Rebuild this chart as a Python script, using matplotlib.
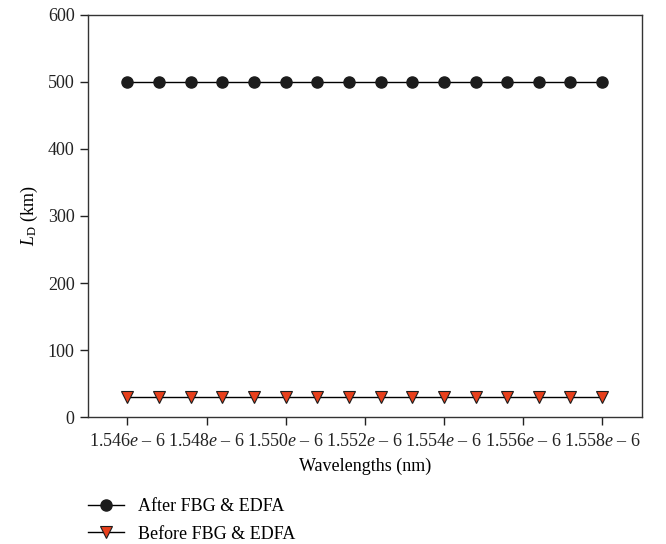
import matplotlib
matplotlib.use("Agg")
import matplotlib.pyplot as plt
from matplotlib.ticker import FuncFormatter, MultipleLocator

plt.rcParams["font.family"] = ["Liberation Serif", "DejaVu Serif"]
plt.rcParams["mathtext.fontset"] = "custom"
plt.rcParams["mathtext.rm"] = "Liberation Serif"
plt.rcParams["mathtext.it"] = "Liberation Serif:italic"

# wavelengths (m), 16 samples
wavelengths = [1.5460e-6, 1.5468e-6, 1.5476e-6, 1.5484e-6, 1.5492e-6, 1.5500e-6,
               1.5508e-6, 1.5516e-6, 1.5524e-6, 1.5532e-6, 1.5540e-6, 1.5548e-6,
               1.5556e-6, 1.5564e-6, 1.5572e-6, 1.5580e-6]
ld_after = [500] * 16
ld_before = [30] * 16
series_labels = ["After FBG & EDFA", "Before FBG & EDFA"]
x_ticks = [1.546e-6, 1.548e-6, 1.550e-6, 1.552e-6, 1.554e-6, 1.556e-6, 1.558e-6]

FS = 13


def fmt_x(v, pos):
    return f"{v * 1e6:.3f}$e$ \u2013 6"


fig = plt.figure(figsize=(6.66, 5.44), dpi=100)
ax = fig.add_axes([0.132, 0.233, 0.8315, 0.740])

ax.plot(wavelengths, ld_after, color="black", lw=1, marker="o", ms=8,
        mfc="#1c1c1c", mec="#1c1c1c", label=series_labels[0])
ax.plot(wavelengths, ld_before, color="black", lw=1, marker="v", ms=8.5,
        mfc="#e8401c", mec="#1c1c1c", mew=0.8, label=series_labels[1])

ax.set_xlim(1.545e-6, 1.559e-6)
ax.set_ylim(0, 600)
ax.set_xticks(x_ticks)
ax.xaxis.set_major_formatter(FuncFormatter(fmt_x))
ax.yaxis.set_major_locator(MultipleLocator(100))
ax.tick_params(direction="out", length=6, width=1, labelsize=FS, colors="#222222")
ax.tick_params(axis="x", pad=5)
for sp in ax.spines.values():
    sp.set_linewidth(1)
    sp.set_color("#333333")

ax.set_xlabel("Wavelengths (nm)", fontsize=FS, labelpad=6)
ax.set_ylabel(r"$L_{\mathrm{D}}$ (km)", fontsize=FS, labelpad=6)

ax.legend(loc="upper left", bbox_to_anchor=(-0.03, -0.16), frameon=False,
          fontsize=FS, handlelength=2.0, handletextpad=0.8, labelspacing=0.6)

fig.savefig("out.png", dpi=100)
